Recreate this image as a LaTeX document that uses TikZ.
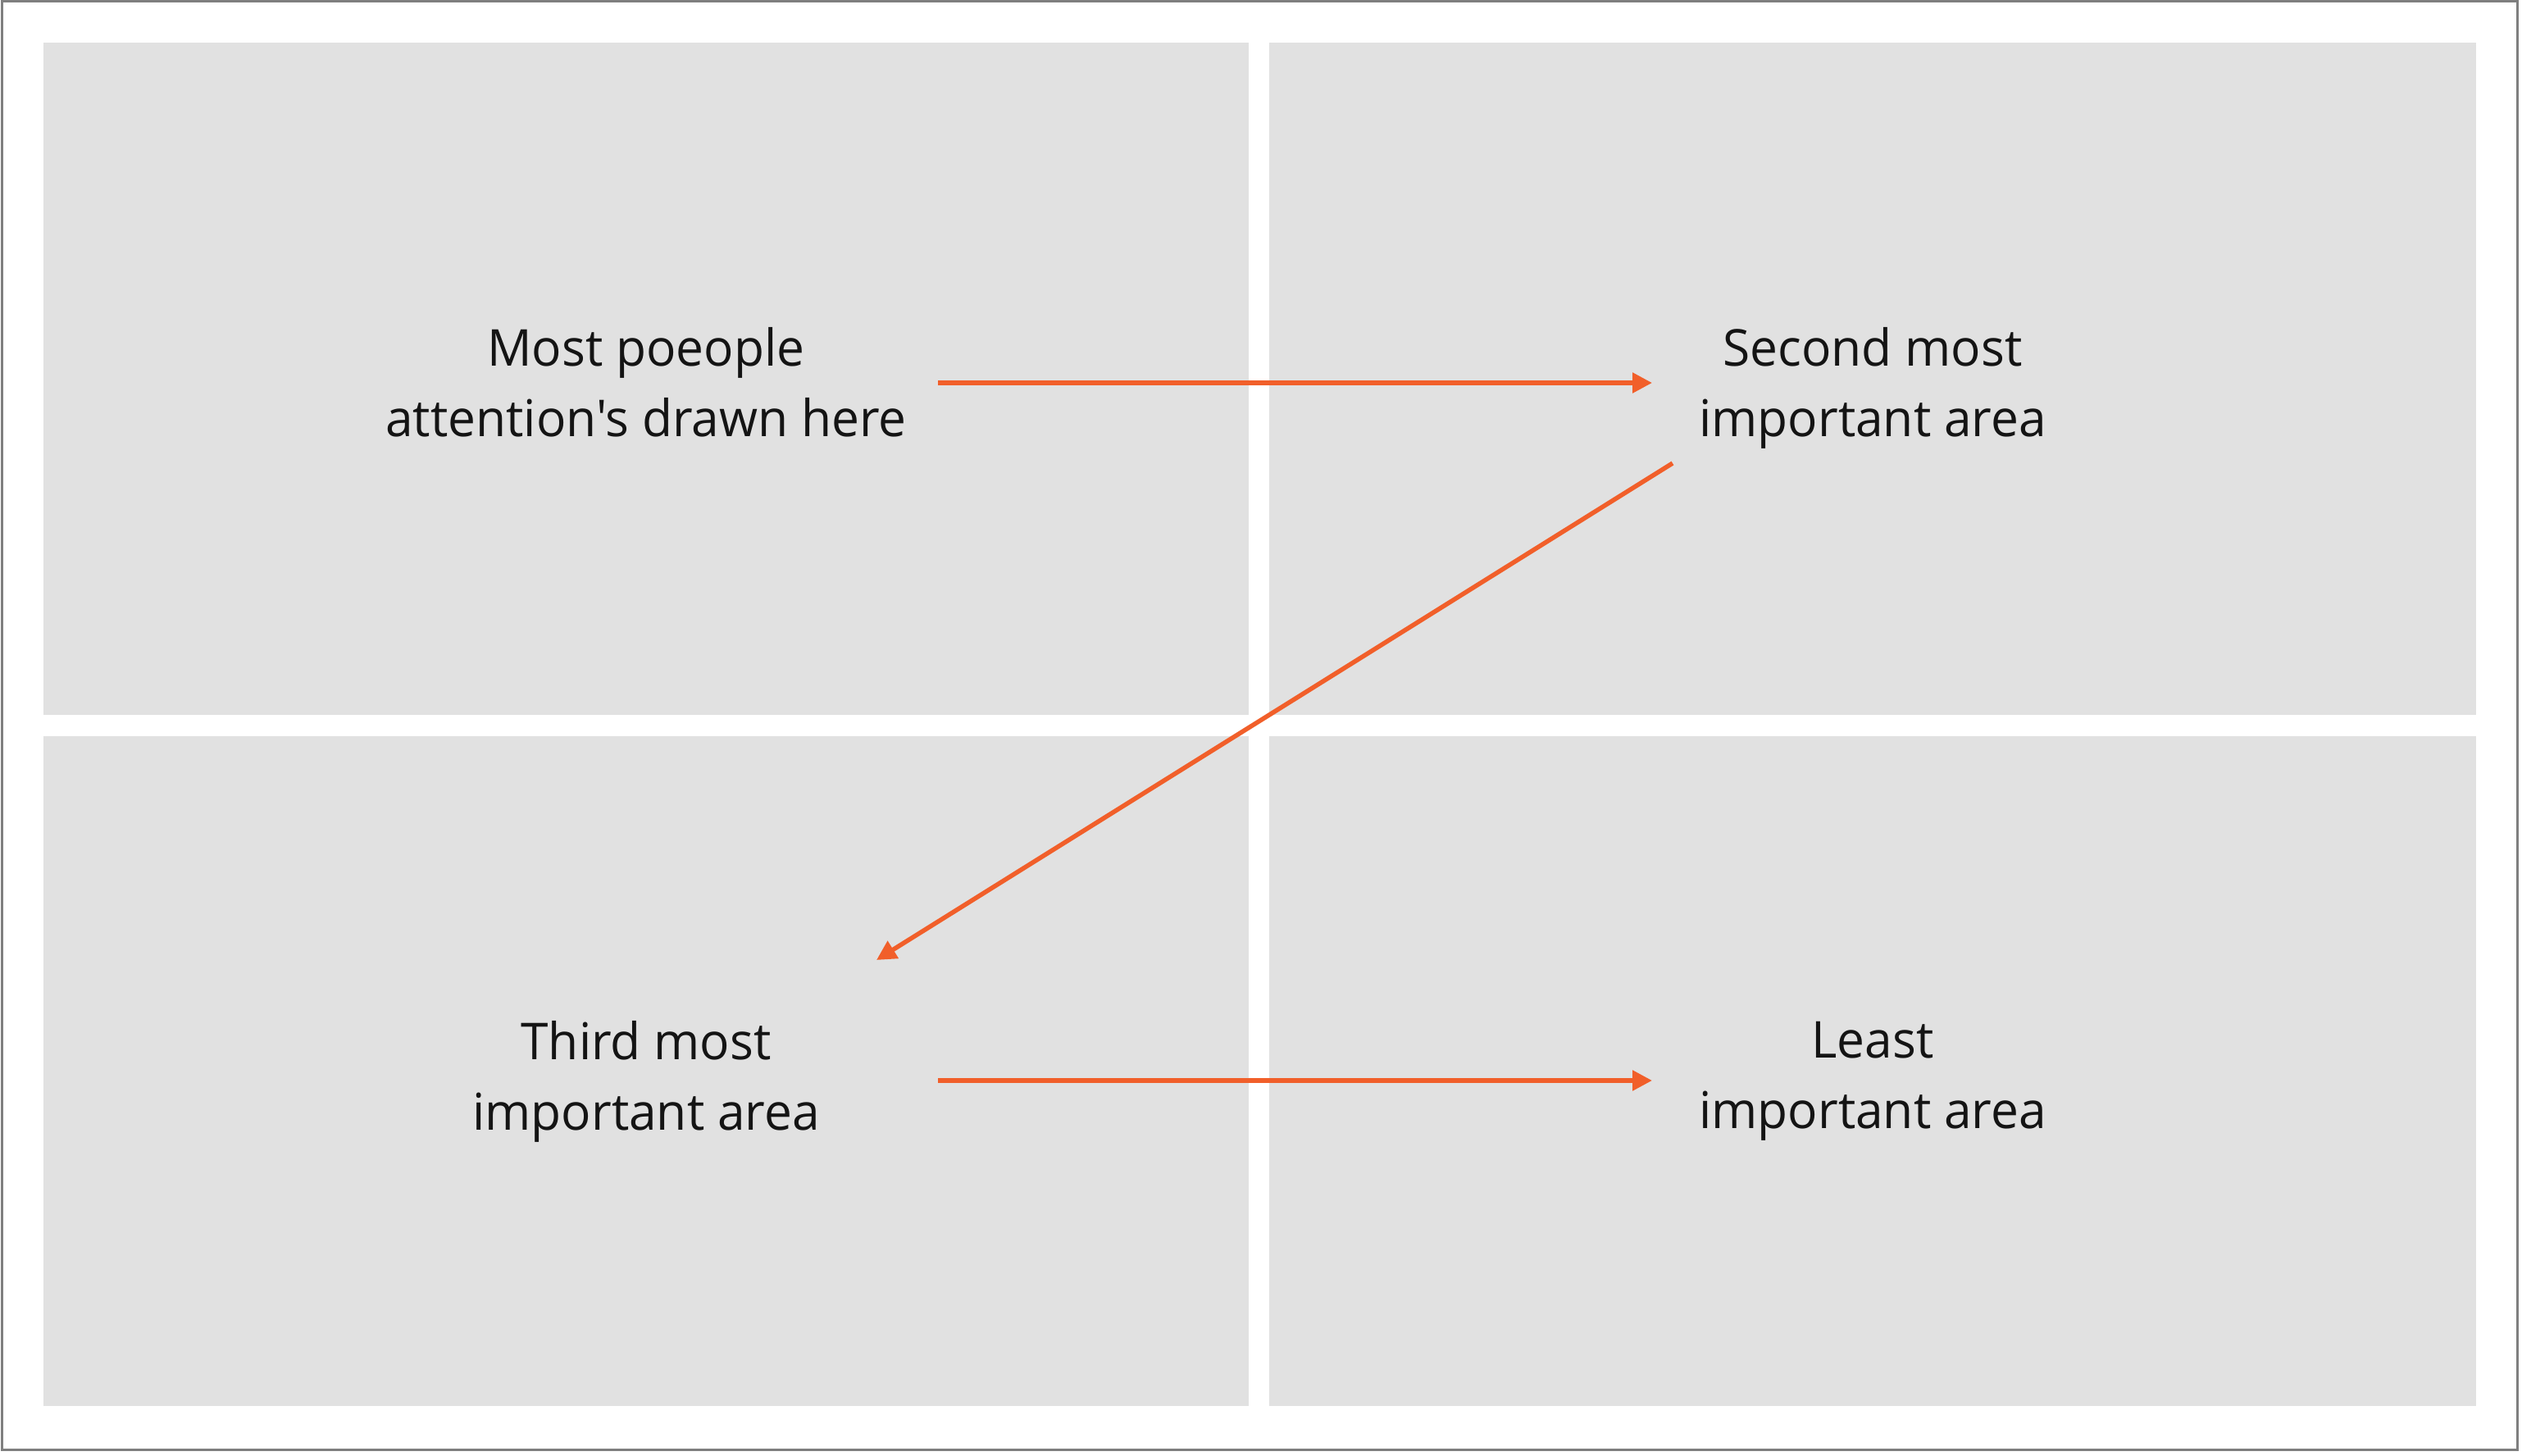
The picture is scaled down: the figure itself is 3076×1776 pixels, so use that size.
\documentclass[tikz,border=0pt]{standalone}
\usepackage{fontspec}
\setmainfont{Open Sans}[Ligatures=TeXOff]
\usetikzlibrary{arrows.meta}
\definecolor{panelgray}{HTML}{E1E1E1}
\definecolor{arroworange}{HTML}{F15F2A}
\definecolor{framegray}{HTML}{7F7F7F}
\tikzset{
  panel/.style={fill=panelgray, draw=none},
  lbl/.style={align=center, font=\fontsize{62}{86}\selectfont, text=black!92, inner sep=0pt, xscale=0.975},
  flow/.style={draw=arroworange, line width=5.5pt, -{Triangle[length=24pt,width=24pt]}}
}
\begin{document}
\begin{tikzpicture}[x=1pt,y=-1pt]
  \useasboundingbox (0,0) rectangle (3076,1776);
  \fill[white] (0,0) rectangle (3076,1776);
  \draw[framegray, line width=3pt] (2,2) rectangle (3070,1768);
  \path[panel] (53,52) rectangle (1523,872);
  \path[panel] (1548,52) rectangle (3020,872);
  \path[panel] (53,898) rectangle (1523,1715);
  \path[panel] (1548,898) rectangle (3020,1715);
  \node[lbl] (tl) at (788,466) {Most poeople\\attention's drawn here};
  \node[lbl] (tr) at (2284,473) {Second most\\important area};
  \node[lbl] (bl) at (788,1319) {Third most\\important area};
  \node[lbl] (br) at (2284,1319) {Least\\important area};
  \coordinate (a1s) at (1144,467);
  \coordinate (a1e) at (2015,467);
  \coordinate (a2s) at (2040,565);
  \coordinate (a2e) at (1069,1171);
  \coordinate (a3s) at (1144,1318);
  \coordinate (a3e) at (2015,1318);
  \draw[flow] (a1s) -- (a1e);
  \draw[flow] (a2s) -- (a2e);
  \draw[flow] (a3s) -- (a3e);
\end{tikzpicture}
\end{document}
